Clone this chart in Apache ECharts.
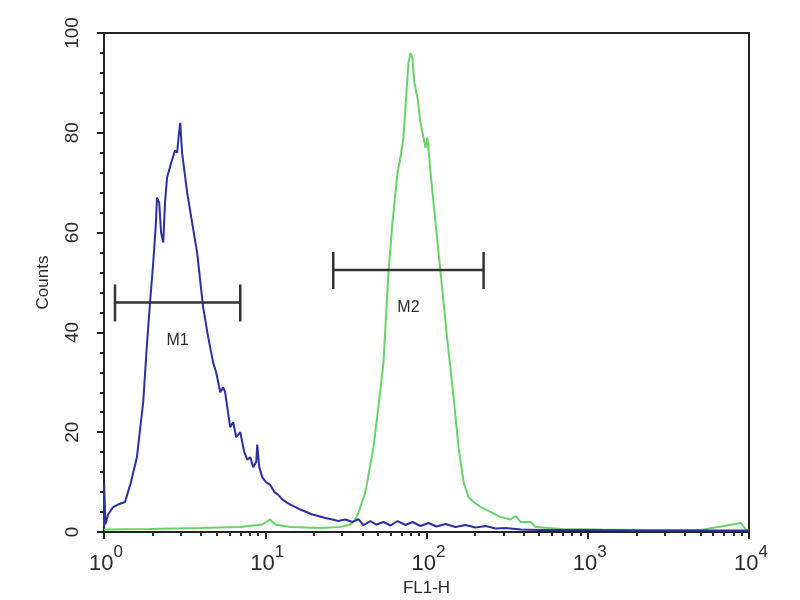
<!DOCTYPE html>
<html>
<head>
<meta charset="utf-8">
<script src="https://cdn.jsdelivr.net/npm/echarts@6/dist/echarts.min.js"></script>
<style>html,body{margin:0;padding:0;background:#fff}#c{width:800px;height:600px}</style>
</head>
<body>
<div id="c"></div>
<script>
// x = fluorescence (FL1-H), y = counts
const blueX = [1.0, 1.003, 1.02, 1.06, 1.14, 1.22, 1.35, 1.47, 1.60, 1.75, 1.85, 1.93, 2.02, 2.10, 2.13, 2.20, 2.26, 2.33, 2.39, 2.46, 2.61, 2.76, 2.84, 2.92, 2.97, 3.05, 3.28, 3.52, 3.78, 4.12, 4.43, 4.75, 4.96, 5.26, 5.48, 5.64, 6.06, 6.33, 6.60, 7.00, 7.41, 7.73, 8.07, 8.42, 8.79, 8.92, 9.18, 9.58, 10.1, 10.7, 11.4, 12.0, 12.8, 13.5, 14.3, 15.4, 16.5, 18.0, 19.6, 21.3, 23.6, 26.1, 28.4, 31.4, 34.7, 37.8, 40.6, 44.9, 48.9, 54.1, 59.8, 66.1, 74.1, 81.8, 91.8, 102.9, 115.4, 131.2, 151.4, 174.7, 201.6, 232.6, 268.3, 309.6, 383.6, 510.6, 904.5, 2134, 5035, 10000];
const blueY = [1, 9.5, 1.5, 3.5, 5, 5.5, 6, 10, 15, 26, 38, 46, 54, 62, 67, 66, 60, 58, 66, 71, 74, 76.5, 76, 80, 82, 76, 68, 62, 56, 45, 39, 34, 32, 28, 29, 28, 21, 22, 19, 20, 16, 14.5, 15, 13, 14, 17.5, 13, 11, 10, 9.5, 8, 7.5, 6.5, 6, 5.5, 5, 4.5, 4, 3.5, 3.2, 2.8, 2.5, 2.2, 2.5, 2.0, 2.6, 1.4, 2.2, 1.5, 2.0, 1.3, 2.2, 1.4, 2.0, 1.2, 1.8, 1.1, 1.6, 1.0, 1.4, 0.9, 1.2, 0.7, 0.8, 0.5, 0.4, 0.4, 0.3, 0.3, 0.3];

const greenX = [1.0, 1.93, 3.95, 7.00, 9.58, 10.7, 11.5, 14.3, 21.97, 29.2, 33.7, 36.2, 37.8, 41.8, 46.9, 50.3, 54.1, 58.1, 61.5, 66.1, 68.9, 71.9, 75.1, 77.3, 79.6, 81.8, 84.2, 87.9, 91.8, 95.8, 98.6, 101.4, 105.9, 113.7, 122.2, 133.1, 147.2, 158.0, 169.8, 182.3, 195.9, 216.5, 249.8, 288.1, 332.5, 357.1, 383.6, 442.6, 475.3, 679.6, 1204, 2462, 5035, 8919, 9581, 10000];
const greenY = [0.5, 0.6, 0.8, 1.0, 1.5, 2.5, 1.5, 1.0, 0.8, 1.0, 1.5, 2.5, 3.8, 8, 17, 25, 34, 52, 62, 72, 75, 79, 88, 94, 96, 95, 90, 87, 82, 79, 77, 79, 72, 62, 52, 40, 27, 17, 10, 7, 6, 5, 4, 3, 2.5, 3.2, 2, 2, 1, 0.6, 0.5, 0.4, 0.4, 1.8, 0.5, 0.3];

const majorTicksX = [1, 10, 100, 1000, 10000];
const minorTicksX = [2,3,4,5,6,7,8,9,20,30,40,50,60,70,80,90,200,300,400,500,600,700,800,900,2000,3000,4000,5000,6000,7000,8000,9000];
const yTicks = [0, 20, 40, 60, 80, 100];

const markers = [
  { name: 'M1', x0: 1.17, x1: 7.0, y: 46 },
  { name: 'M2', x0: 26.4, x1: 226, y: 52.5 }
];

const zip = (xs, ys) => xs.map((x, i) => [x, ys[i]]);

const chart = echarts.init(document.getElementById('c'));
const textColor = '#2a2a2a';
chart.setOption({
  animation: false,
  backgroundColor: '#fff',
  grid: { left: 104, right: 51, top: 33, bottom: 68, show: true, borderColor: '#222', borderWidth: 2, backgroundColor: 'transparent', containLabel: false, outerBoundsMode: 'none' },
  xAxis: [{
    type: 'log', logBase: 10, min: 1, max: 10000,
    name: 'FL1-H', nameLocation: 'middle', nameGap: 43,
    nameTextStyle: { fontFamily: 'Liberation Sans', fontSize: 17, color: textColor },
    axisLine: { show: true, lineStyle: { color: '#222', width: 2 } },
    axisTick: { show: true, inside: false, length: 7, customValues: majorTicksX, lineStyle: { color: '#222', width: 2 } },
    splitLine: { show: false },
    axisLabel: {
      margin: 12, customValues: majorTicksX,
      formatter: v => '{b|10}{s|' + Math.round(Math.log10(v)) + '}',
      rich: {
        b: { fontFamily: 'Liberation Sans', fontSize: 22, color: textColor, verticalAlign: 'bottom', lineHeight: 31, padding: [0, 0, 0, 4] },
        s: { fontFamily: 'Liberation Sans', fontSize: 17, color: textColor, verticalAlign: 'top', lineHeight: 31 }
      }
    }
  }, {
    type: 'log', logBase: 10, min: 1, max: 10000, position: 'bottom',
    axisLine: { show: false },
    axisTick: { show: true, inside: false, length: 4, customValues: minorTicksX, lineStyle: { color: '#222', width: 2 } },
    axisLabel: { show: false }, splitLine: { show: false }
  }],
  yAxis: {
    type: 'value', min: 0, max: 100, interval: 20,
    name: 'Counts', nameLocation: 'middle', nameGap: 52, nameRotate: 90,
    nameTextStyle: { fontFamily: 'Liberation Sans', fontSize: 17, color: textColor },
    axisLine: { show: true, lineStyle: { color: '#222', width: 2 } },
    axisTick: { show: true, inside: false, length: 7, lineStyle: { color: '#222', width: 2 } },
    minorTick: { show: true, splitNumber: 5, length: 4, lineStyle: { color: '#222', width: 2 } },
    splitLine: { show: false },
    axisLabel: { rotate: 90, margin: 22, fontFamily: 'Liberation Sans', fontSize: 19, color: textColor,
      customValues: yTicks }
  },
  series: [
    { type: 'line', data: zip(greenX, greenY), showSymbol: false, lineStyle: { color: '#6ad26a', width: 2 }, z: 3 },
    { type: 'line', data: zip(blueX, blueY), showSymbol: false, lineStyle: { color: '#2c2f9e', width: 2 }, z: 4 },
    {
      type: 'custom', z: 5,
      data: markers.map(m => [m.x0, m.x1, m.y, m.name]),
      renderItem: (params, api) => {
        const a = api.coord([api.value(0), api.value(2)]);
        const b = api.coord([api.value(1), api.value(2)]);
        const midX = (a[0] + b[0]) / 2;
        const st = { stroke: '#333', lineWidth: 2.5 };
        return {
          type: 'group',
          children: [
            { type: 'line', shape: { x1: a[0], y1: a[1], x2: b[0], y2: b[1] }, style: st },
            { type: 'line', shape: { x1: a[0], y1: a[1] - 18, x2: a[0], y2: a[1] + 19 }, style: st },
            { type: 'line', shape: { x1: b[0], y1: b[1] - 18, x2: b[0], y2: b[1] + 19 }, style: st },
            { type: 'text', style: { x: midX, y: a[1] + 38, text: markers[params.dataIndex].name, align: 'center', verticalAlign: 'middle', fontFamily: 'Liberation Sans', fontSize: 16, fill: textColor } }
          ]
        };
      }
    }
  ]
});
</script>
</body>
</html>
